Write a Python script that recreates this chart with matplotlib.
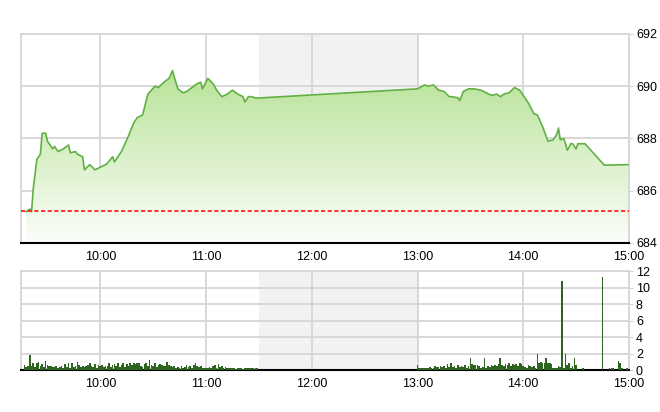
# intraday index chart: price area on top, volume bars below
import numpy as np
import matplotlib.pyplot as plt
from matplotlib.patches import Polygon

# price trace (time, value)
price_times = ['09:18', '09:20', '09:21', '09:22', '09:24', '09:26', '09:27', '09:29',
               '09:30', '09:33', '09:34', '09:36', '09:39', '09:42', '09:43', '09:46',
               '09:47', '09:50', '09:51', '09:54', '09:57', '10:00', '10:03', '10:04',
               '10:07', '10:08', '10:10', '10:12', '10:14', '10:16', '10:19', '10:21',
               '10:24', '10:27', '10:29', '10:31', '10:33', '10:36', '10:39', '10:41',
               '10:42', '10:44', '10:47', '10:49', '10:52', '10:55', '10:57', '10:58',
               '11:01', '11:04', '11:06', '11:09', '11:12', '11:15', '11:18', '11:21',
               '11:22', '11:24', '11:26', '11:28', '11:30',
               '13:00', '13:04', '13:06', '13:09', '13:12', '13:15', '13:18', '13:20',
               '13:23', '13:24', '13:26', '13:29', '13:32', '13:36', '13:39', '13:42',
               '13:45', '13:47', '13:49', '13:52', '13:55', '13:58', '14:00', '14:03',
               '14:06', '14:08', '14:11', '14:14', '14:17', '14:19', '14:20', '14:21',
               '14:23', '14:24', '14:25', '14:27', '14:28', '14:30', '14:31', '14:35',
               '14:46', '15:00']
price_vals = [685.2, 685.3, 685.2, 686.1, 687.2, 687.4, 688.2, 688.2,
              687.9, 687.6, 687.7, 687.5, 687.6, 687.75, 687.45, 687.5,
              687.4, 687.3, 686.8, 687.0, 686.8, 686.9, 687.0, 687.05,
              687.3, 687.1, 687.3, 687.5, 687.8, 688.1, 688.6, 688.8,
              688.9, 689.7, 689.85, 690.0, 689.95, 690.15, 690.3, 690.6,
              690.35, 689.9, 689.75, 689.8, 689.95, 690.1, 690.15, 689.9,
              690.3, 690.1, 689.85, 689.6, 689.7, 689.85, 689.7, 689.6,
              689.4, 689.6, 689.6, 689.55, 689.55,
              689.9, 690.05, 690.0, 690.05, 689.85, 689.8, 689.6, 689.6,
              689.55, 689.45, 689.8, 689.9, 689.9, 689.85, 689.75, 689.65,
              689.7, 689.6, 689.7, 689.75, 689.95, 689.85, 689.65, 689.35,
              688.95, 688.9, 688.45, 687.9, 687.95, 688.15, 688.4, 687.95,
              688.0, 687.8, 687.55, 687.8, 687.8, 687.6, 687.8, 687.8,
              686.98, 687.0]
ref_price = 685.22

# volume, one bar per minute
am_start = '09:15'
am_vol = [0, 0, 0.6, 0.4, 0.5,
          1.8, 0.5, 0.9, 0.4, 0.8, 1.0, 0.5, 0.7, 0.4, 1.1,
          0.6, 0.5, 0.5, 0.4, 0.4, 0.5, 0.3, 0.4, 0.5, 0.3,
          0.7, 0.4, 0.8, 0.3, 0.9, 0.4, 0.5, 1.0, 0.6, 0.4,
          0.5, 0.4, 0.5, 0.6, 0.9, 0.5, 0.4, 0.7, 0.3, 0.6,
          0.5, 0.6, 0.4, 0.5, 0.5, 0.9, 0.4, 0.6, 0.7, 0.5,
          0.9, 0.4, 0.6, 0.8, 0.4, 0.7, 0.5, 0.9, 0.6, 0.8,
          0.7, 0.9, 0.8, 0.5, 0.4, 0.7, 0.8, 0.5, 1.2, 0.6,
          0.5, 0.8, 0.4, 0.6, 0.7, 0.6, 0.5, 0.5, 1.0, 0.6,
          0.5, 0.4, 0.5, 0.3, 0.4, 0.3, 0.5, 0.3, 0.4, 0.6,
          0.4, 0.5, 0.3, 0.6, 0.8, 0.5, 0.4, 0.5, 0.3, 0.2,
          0.3, 0.2, 0.4, 0.2, 0.5, 0.6, 0.3, 0.7, 0.4, 0.5,
          0.3, 0.4, 0.2, 0.3, 0.2, 0.3, 0.2, 0.1, 0.2, 0.3,
          0.2, 0.1, 0.2, 0.3, 0.2, 0.3, 0.2, 0.3, 0.2, 0.3]
pm_start = '13:00'
pm_vol = [0.6, 0.2, 0.3, 0.2, 0.2, 0.3, 0.2, 0.4, 0.3, 0.3,
          0.5, 0.4, 0.4, 0.5, 0.4, 0.5, 0.3, 0.7, 0.4, 0.8,
          0.4, 0.5, 0.3, 0.6, 0.4, 0.5, 0.4, 0.6, 0.3, 0.5,
          1.4, 0.7, 0.6, 0.6, 0.6, 0.5, 0.3, 0.4, 1.4, 0.3,
          0.5, 0.4, 0.6, 0.5, 0.6, 0.5, 0.7, 1.4, 0.6, 0.5,
          0.7, 0.6, 0.8, 0.5, 0.7, 0.6, 0.7, 0.5, 0.8, 0.7,
          0.5, 0.4, 0.3, 0.6, 0.5, 0.4, 0.5, 0.3, 1.9, 0.9,
          1.0, 0.9, 0.8, 1.5, 0.8, 0.8, 0.7, 0.3, 0.3, 0.2,
          0.5, 0.4, 10.8, 0.3, 1.9, 0.6, 0.8, 0.2, 0.5, 1.4,
          0.6, 0, 0, 0, 0.2, 0, 0, 0, 0, 0,
          0, 0, 0, 0, 0, 11.3, 0, 0, 0, 0.2,
          0.2, 0.2, 0, 0, 1.1, 0.8, 0.2, 0, 0, 0.2]

hour_ticks = ['10:00', '11:00', '12:00', '13:00', '14:00', '15:00']
price_ticks = [684, 686, 688, 690, 692]
vol_ticks = [0, 2, 4, 6, 8, 10, 12]
lunch = ('11:30', '13:00')


def to_min(s):
    h, m = s.split(':')
    return int(h) * 60 + int(m)


px = np.array([to_min(t) for t in price_times])
py = np.array(price_vals)
vx = np.concatenate([to_min(am_start) + np.arange(len(am_vol)),
                     to_min(pm_start) + np.arange(len(pm_vol))])
vy = np.array(am_vol + pm_vol)
xmin, xmax = to_min('09:15'), to_min('15:00')

plt.rcParams['font.family'] = ['Liberation Sans', 'DejaVu Sans']
fig = plt.figure(figsize=(6.6, 4.12), dpi=100)
ax1 = fig.add_axes([0.0318, 0.4102, 0.9212, 0.5073])
ax2 = fig.add_axes([0.0318, 0.1019, 0.9212, 0.2403])

grid_c = '#d6d6d6'
for ax, ymin, ymax, yt in [(ax1, 684, 692, price_ticks), (ax2, 0, 12, vol_ticks)]:
    ax.set_xlim(xmin, xmax)
    ax.set_ylim(ymin, ymax)
    ax.axvspan(to_min(lunch[0]), to_min(lunch[1]), color='#f2f2f2', lw=0, zorder=0)
    ax.set_xticks([to_min(t) for t in hour_ticks])
    ax.set_xticklabels(hour_ticks)
    ax.set_yticks(yt)
    ax.yaxis.tick_right()
    ax.grid(True, color=grid_c, lw=1.3, zorder=1)
    ax.set_axisbelow(True)
    ax.tick_params(axis='both', labelsize=9, length=3, color=grid_c, pad=2)
    ax.tick_params(axis='x', length=0, pad=6)
    for s in ['left', 'top', 'right']:
        ax.spines[s].set_color(grid_c)
        ax.spines[s].set_linewidth(1.3)
    ax.spines['bottom'].set_color('black')
    ax.spines['bottom'].set_linewidth(1.5)

# gradient fill under the price line
grad = np.linspace(0, 1, 256)[:, None]
top_c = np.array([0.70, 0.88, 0.56])
bot_c = np.array([0.985, 0.995, 0.98])
img = top_c * (1 - grad[..., None]) + bot_c * grad[..., None]
im = ax1.imshow(img, extent=[xmin, xmax, 684, 691.2], origin='upper',
                aspect='auto', zorder=2)
verts = [(px[0], 684)] + list(zip(px, py)) + [(px[-1], 684)]
poly = Polygon(verts, closed=True, facecolor='none', edgecolor='none')
ax1.add_patch(poly)
im.set_clip_path(poly)
ax1.plot(px, py, color='#62b045', lw=1.2, zorder=3)
ax1.axhline(ref_price, color='#ff1010', lw=1.2, ls=(0, (2.5, 1.5)), zorder=4)
ax1.set_xlim(xmin, xmax)
ax1.set_ylim(684, 692)

# volume bars
ax2.bar(vx, vy, width=0.95, color='#2c6420', lw=0, zorder=3)

plt.savefig('out.png', dpi=100)
